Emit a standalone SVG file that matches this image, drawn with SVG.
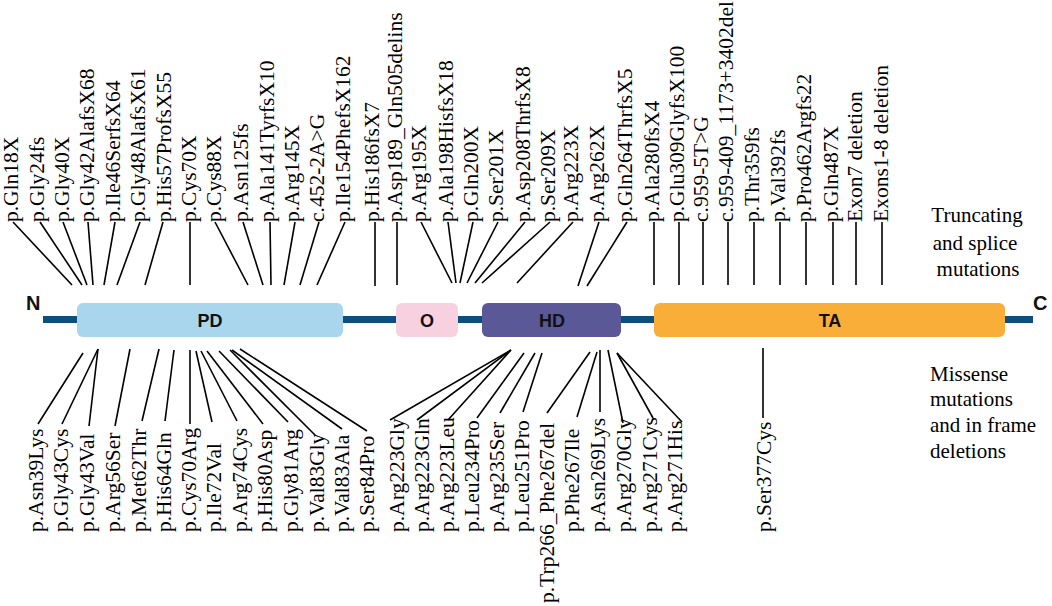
<svg xmlns="http://www.w3.org/2000/svg" width="1052" height="606" viewBox="0 0 1052 606">
<style>
.lbl{font-family:"Liberation Serif","Times New Roman",serif;font-size:21.5px;fill:#000}
.note{font-family:"Liberation Serif","Times New Roman",serif;font-size:21px;fill:#000}
.dom{font-family:"Liberation Sans",Arial,sans-serif;font-weight:bold;font-size:18px;fill:#111;text-anchor:middle}
.term{font-family:"Liberation Sans",Arial,sans-serif;font-weight:bold;font-size:20px;fill:#111}
#connectors line{stroke:#000;stroke-width:1.6;stroke-linecap:butt}
</style>
<rect width="1052" height="606" fill="#fff"/>
<g id="backbone">
<rect x="43" y="316" width="990" height="7" fill="#0b4f7f"/>
<text class="term" x="26" y="310">N</text>
<text class="term" x="1033" y="310">C</text>
</g>
<g id="node-PD"><rect x="77" y="303" width="266" height="34" rx="6" fill="#a9d6ec"/><text class="dom" x="210" y="327">PD</text></g>
<g id="node-O"><rect x="396" y="303" width="62" height="34" rx="6" fill="#f8d1e1"/><text class="dom" x="427" y="327">O</text></g>
<g id="node-HD"><rect x="482" y="303" width="139" height="34" rx="6" fill="#5b5898"/><text class="dom" x="552" y="327">HD</text></g>
<g id="node-TA"><rect x="654" y="303" width="351" height="34" rx="6" fill="#f8ae38"/><text class="dom" x="830" y="327">TA</text></g>
<g id="connectors">
<line x1="13" y1="222" x2="72" y2="285"/>
<line x1="40" y1="222" x2="82" y2="285"/>
<line x1="63" y1="222" x2="87" y2="285"/>
<line x1="88" y1="222" x2="93" y2="285"/>
<line x1="115" y1="222" x2="104" y2="285"/>
<line x1="140" y1="222" x2="117" y2="285"/>
<line x1="163" y1="222" x2="145" y2="285"/>
<line x1="190" y1="222" x2="190" y2="285"/>
<line x1="215" y1="222" x2="248" y2="285"/>
<line x1="243" y1="222" x2="263" y2="285"/>
<line x1="270" y1="222" x2="271" y2="285"/>
<line x1="295" y1="222" x2="284" y2="285"/>
<line x1="319" y1="222" x2="300" y2="285"/>
<line x1="345" y1="222" x2="317" y2="285"/>
<line x1="375" y1="222" x2="375" y2="286"/>
<line x1="397" y1="222" x2="397" y2="285"/>
<line x1="421" y1="222" x2="452" y2="283"/>
<line x1="448" y1="222" x2="456" y2="283"/>
<line x1="473" y1="222" x2="460" y2="283"/>
<line x1="498" y1="222" x2="467" y2="283"/>
<line x1="525" y1="222" x2="475" y2="283"/>
<line x1="550" y1="222" x2="482" y2="283"/>
<line x1="573" y1="222" x2="517" y2="283"/>
<line x1="599" y1="222" x2="578" y2="286"/>
<line x1="627" y1="222" x2="587" y2="286"/>
<line x1="654" y1="222" x2="654" y2="285"/>
<line x1="679" y1="222" x2="679" y2="285"/>
<line x1="703" y1="222" x2="703" y2="285"/>
<line x1="728" y1="222" x2="728" y2="285"/>
<line x1="754" y1="222" x2="754" y2="285"/>
<line x1="780" y1="222" x2="780" y2="285"/>
<line x1="806" y1="222" x2="806" y2="285"/>
<line x1="833" y1="222" x2="833" y2="285"/>
<line x1="856" y1="222" x2="856" y2="285"/>
<line x1="882" y1="222" x2="882" y2="285"/>
<line x1="83" y1="353" x2="38" y2="424"/>
<line x1="98" y1="349" x2="62" y2="424"/>
<line x1="98" y1="349" x2="89" y2="426"/>
<line x1="130" y1="349" x2="115" y2="426"/>
<line x1="159" y1="349" x2="142" y2="421"/>
<line x1="174" y1="350" x2="165" y2="421"/>
<line x1="190" y1="350" x2="190" y2="424"/>
<line x1="196" y1="351" x2="212" y2="422"/>
<line x1="201" y1="351" x2="237" y2="421"/>
<line x1="207" y1="351" x2="263" y2="424"/>
<line x1="219" y1="351" x2="288" y2="422"/>
<line x1="230" y1="350" x2="315" y2="435"/>
<line x1="232" y1="350" x2="342" y2="429"/>
<line x1="240" y1="349" x2="367" y2="431"/>
<line x1="511" y1="350" x2="390" y2="420"/>
<line x1="511" y1="350" x2="417" y2="420"/>
<line x1="510" y1="351" x2="448" y2="420"/>
<line x1="524" y1="353" x2="477" y2="418"/>
<line x1="535" y1="353" x2="500" y2="413"/>
<line x1="542" y1="353" x2="523" y2="412"/>
<line x1="590" y1="352" x2="547" y2="413"/>
<line x1="597" y1="352" x2="577" y2="417"/>
<line x1="600" y1="350" x2="600" y2="412"/>
<line x1="608" y1="350" x2="623" y2="423"/>
<line x1="617" y1="353" x2="653" y2="418"/>
<line x1="617" y1="353" x2="682" y2="422"/>
<line x1="763" y1="348" x2="763" y2="418"/>
</g>
<g id="labels-truncating">
<text class="lbl" transform="translate(18,222) rotate(-90)">p.Gln18X</text>
<text class="lbl" transform="translate(44,222) rotate(-90)">p.Gly24fs</text>
<text class="lbl" transform="translate(69,222) rotate(-90)">p.Gly40X</text>
<text class="lbl" transform="translate(94,222) rotate(-90)">p.Gly42AlafsX68</text>
<text class="lbl" transform="translate(120,222) rotate(-90)">p.Ile46SerfsX64</text>
<text class="lbl" transform="translate(145,222) rotate(-90)">p.Gly48AlafsX61</text>
<text class="lbl" transform="translate(171,222) rotate(-90)">p.His57ProfsX55</text>
<text class="lbl" transform="translate(196,222) rotate(-90)">p.Cys70X</text>
<text class="lbl" transform="translate(221,222) rotate(-90)">p.Cys88X</text>
<text class="lbl" transform="translate(248,222) rotate(-90)">p.Asn125fs</text>
<text class="lbl" transform="translate(274,222) rotate(-90)">p.Ala141TyrfsX10</text>
<text class="lbl" transform="translate(299,222) rotate(-90)">p.Arg145X</text>
<text class="lbl" transform="translate(324,222) rotate(-90)">c.452-2A&gt;G</text>
<text class="lbl" transform="translate(350,222) rotate(-90)">p.Ile154PhefsX162</text>
<text class="lbl" transform="translate(379,222) rotate(-90)">p.His186fsX7</text>
<text class="lbl" transform="translate(402,222) rotate(-90)">p.Asp189_Gln505delins</text>
<text class="lbl" transform="translate(426,222) rotate(-90)">p.Arg195X</text>
<text class="lbl" transform="translate(453,222) rotate(-90)">p.Ala198HisfsX18</text>
<text class="lbl" transform="translate(478,222) rotate(-90)">p.Gln200X</text>
<text class="lbl" transform="translate(503,222) rotate(-90)">p.Ser201X</text>
<text class="lbl" transform="translate(530,222) rotate(-90)">p.Asp208ThrfsX8</text>
<text class="lbl" transform="translate(555,222) rotate(-90)">p.Ser209X</text>
<text class="lbl" transform="translate(578,222) rotate(-90)">p.Arg223X</text>
<text class="lbl" transform="translate(604,222) rotate(-90)">p.Arg262X</text>
<text class="lbl" transform="translate(632,222) rotate(-90)">p.Gln264ThrfsX5</text>
<text class="lbl" transform="translate(659,222) rotate(-90)">p.Ala280fsX4</text>
<text class="lbl" transform="translate(684,222) rotate(-90)">p.Glu309GlyfsX100</text>
<text class="lbl" transform="translate(708,222) rotate(-90)">c.959-5T&gt;G</text>
<text class="lbl" transform="translate(733,222) rotate(-90)">c.959-409_1173+3402del</text>
<text class="lbl" transform="translate(759,222) rotate(-90)">p.Thr359fs</text>
<text class="lbl" transform="translate(785,222) rotate(-90)">p.Val392fs</text>
<text class="lbl" transform="translate(811,222) rotate(-90)">p.Pro462Argfs22</text>
<text class="lbl" transform="translate(838,222) rotate(-90)">p.Gln487X</text>
<text class="lbl" transform="translate(862,222) rotate(-90)">Exon7 deletion</text>
<text class="lbl" transform="translate(888,222) rotate(-90)">Exons1-8 deletion</text>
</g>
<g id="labels-missense">
<text class="lbl" transform="translate(43,532) rotate(-90)">p.Asn39Lys</text>
<text class="lbl" transform="translate(68,532) rotate(-90)">p.Gly43Cys</text>
<text class="lbl" transform="translate(94,532) rotate(-90)">p.Gly43Val</text>
<text class="lbl" transform="translate(120,532) rotate(-90)">p.Arg56Ser</text>
<text class="lbl" transform="translate(146,532) rotate(-90)">p.Met62Thr</text>
<text class="lbl" transform="translate(171,532) rotate(-90)">p.His64Gln</text>
<text class="lbl" transform="translate(196,532) rotate(-90)">p.Cys70Arg</text>
<text class="lbl" transform="translate(221,532) rotate(-90)">p.Ile72Val</text>
<text class="lbl" transform="translate(247,532) rotate(-90)">p.Arg74Cys</text>
<text class="lbl" transform="translate(272,532) rotate(-90)">p.His80Asp</text>
<text class="lbl" transform="translate(298,532) rotate(-90)">p.Gly81Arg</text>
<text class="lbl" transform="translate(324,532) rotate(-90)">p.Val83Gly</text>
<text class="lbl" transform="translate(349,532) rotate(-90)">p.Val83Ala</text>
<text class="lbl" transform="translate(374,532) rotate(-90)">p.Ser84Pro</text>
<text class="lbl" transform="translate(404,532) rotate(-90)">p.Arg223Gly</text>
<text class="lbl" transform="translate(429,532) rotate(-90)">p.Arg223Gln</text>
<text class="lbl" transform="translate(454,532) rotate(-90)">p.Arg223Leu</text>
<text class="lbl" transform="translate(479,532) rotate(-90)">p.Leu234Pro</text>
<text class="lbl" transform="translate(504,532) rotate(-90)">p.Arg235Ser</text>
<text class="lbl" transform="translate(529,532) rotate(-90)">p.Leu251Pro</text>
<text class="lbl" transform="translate(554,603) rotate(-90)">p.Trp266_Phe267del</text>
<text class="lbl" transform="translate(579,532) rotate(-90)">p.Phe267Ile</text>
<text class="lbl" transform="translate(605,532) rotate(-90)">p.Asn269Lys</text>
<text class="lbl" transform="translate(631,532) rotate(-90)">p.Arg270Gly</text>
<text class="lbl" transform="translate(657,532) rotate(-90)">p.Arg271Cys</text>
<text class="lbl" transform="translate(682,532) rotate(-90)">p.Arg271His</text>
<text class="lbl" transform="translate(771,532) rotate(-90)">p.Ser377Cys</text>
</g>
<g id="legend-truncating">
<text class="note" text-anchor="middle" x="977" y="222">Truncating</text>
<text class="note" text-anchor="middle" x="975" y="250">and splice</text>
<text class="note" text-anchor="middle" x="978" y="276">mutations</text>
</g>
<g id="legend-missense">
<text class="note" x="930" y="381">Missense</text>
<text class="note" x="930" y="406">mutations</text>
<text class="note" x="930" y="432">and in frame</text>
<text class="note" x="930" y="458">deletions</text>
</g>
</svg>
